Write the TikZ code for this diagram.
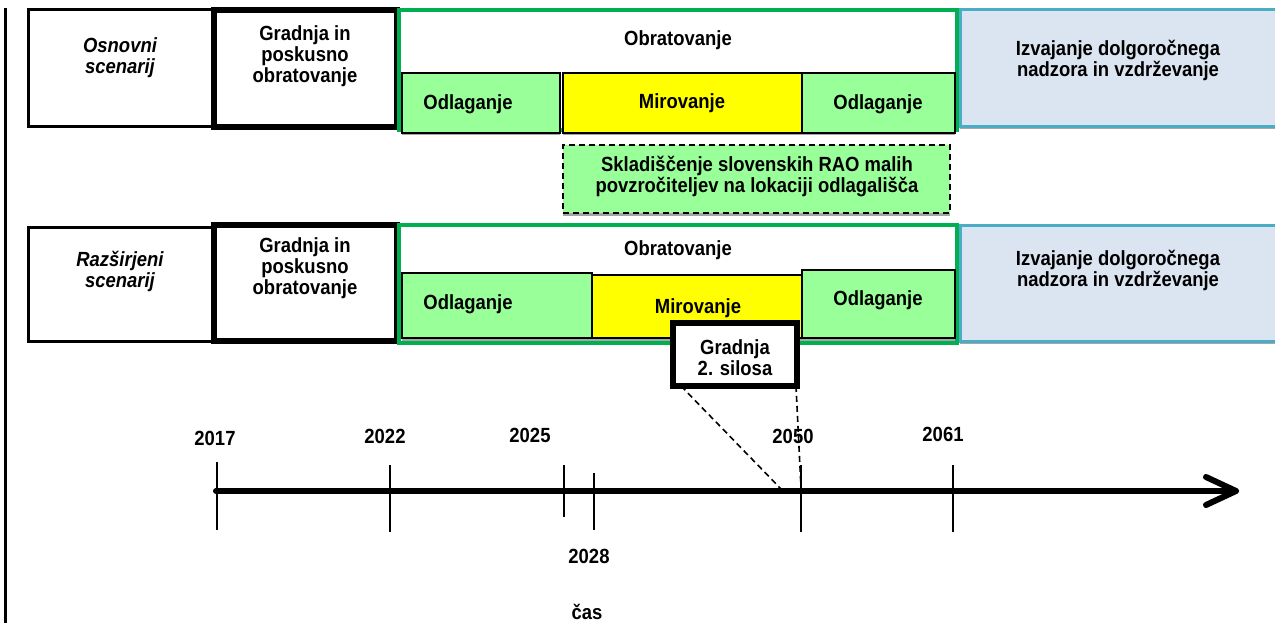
\documentclass[tikz,border=0pt]{standalone}
\usepackage{fontspec}
\setmainfont{Liberation Sans}[FakeStretch=0.9]
\usetikzlibrary{shadows}
\definecolor{grn}{HTML}{00B050}
\definecolor{lgrn}{HTML}{99FF99}
\definecolor{ylw}{HTML}{FFFF00}
\definecolor{lblue}{HTML}{DBE5F1}
\definecolor{bblue}{HTML}{4BACC6}
\begin{document}
\begin{tikzpicture}[x=1pt,y=-1pt,
  font=\fontsize{20.5}{21}\selectfont\bfseries,
  bx/.style={draw, anchor=north west, inner sep=0pt, outer sep=0pt},
  thinbox/.style={bx, line width=3pt, fill=white},
  thickbox/.style={bx, line width=6pt, fill=white},
  greenbox/.style={bx, draw=grn, line width=4pt, fill=white},
  shad/.style={drop shadow={shadow xshift=0pt, shadow yshift=-2.5pt, fill=gray!70, opacity=1}},
  odl/.style={bx, line width=2pt, fill=lgrn, shad},
  mir/.style={bx, line width=2pt, fill=ylw, shad},
  izv/.style={bx, draw=bblue, line width=3pt, fill=lblue, shad},
  txt/.style={align=center, inner sep=0pt},
  tick/.style={line width=2pt},
  yr/.style={inner sep=0pt}
]
\useasboundingbox (0,0) rectangle (1275,623);
\fill[white] (0,0) rectangle (1275,623);

% left line
\coordinate (lt) at (5,8);
\coordinate (lb) at (5,623);
\draw[line width=3pt] (lt) -- (lb);

% ---------- Row 1 ----------
\node[thinbox, minimum width=184pt, minimum height=117pt] (osn) at (28,10) {};
\node[thickbox, minimum width=183pt, minimum height=117pt] (gr1) at (214,10) {};
\node[greenbox, minimum width=558pt, minimum height=120pt] (obr1) at (399,10) {};
\node[odl, minimum width=158pt, minimum height=60pt] (od1a) at (402,73) {};
\node[mir, minimum width=239pt, minimum height=60pt] (mir1) at (563,73) {};
\node[odl, minimum width=153pt, minimum height=60pt] (od1b) at (802,73) {};
\node[izv, minimum width=320pt, minimum height=117pt] (izv1) at (960,10) {};
\node[odl, dashed, dash pattern=on 6pt off 4pt, minimum width=387pt, minimum height=68pt] (skl) at (563,145) {};

\node[txt] (t-osn) at (120,58) {\itshape Osnovni\\\itshape scenarij};
\node[txt] (t-gr1) at (305,56) {Gradnja in\\poskusno\\obratovanje};
\node[txt] (t-obr1) at (678,40) {Obratovanje};
\node[txt] (t-od1a) at (468,104) {Odlaganje};
\node[txt] (t-mir1) at (682,103) {Mirovanje};
\node[txt] (t-od1b) at (878,104) {Odlaganje};
\node[txt] (t-izv1) at (1118,60) {Izvajanje dolgoročnega\\nadzora in vzdrževanje};
\node[txt] (t-skl) at (757,177) {Skladiščenje slovenskih RAO malih\\povzročiteljev na lokaciji odlagališča};

% ---------- Row 2 ----------
\node[thinbox, minimum width=184pt, minimum height=114pt] (raz) at (28,227) {};
\node[thickbox, minimum width=183pt, minimum height=116pt] (gr2) at (214,225) {};
\node[greenbox, minimum width=558pt, minimum height=118pt] (obr2) at (399,225) {};
\node[odl, minimum width=190pt, minimum height=65pt] (od2a) at (402,273) {};
\node[mir, minimum width=210pt, minimum height=63pt] (mir2) at (592,275) {};
\node[odl, minimum width=153pt, minimum height=68pt] (od2b) at (802,270) {};
\node[izv, minimum width=320pt, minimum height=116pt] (izv2) at (960,225) {};
\node[thickbox, minimum width=124pt, minimum height=63pt] (sil) at (673,323) {};

\node[txt] (t-raz) at (120,271) {\itshape Razširjeni\\\itshape scenarij};
\node[txt] (t-gr2) at (305,268) {Gradnja in\\poskusno\\obratovanje};
\node[txt] (t-obr2) at (678,250) {Obratovanje};
\node[txt] (t-od2a) at (468,304) {Odlaganje};
\node[txt] (t-mir2) at (698,308) {Mirovanje};
\node[txt] (t-od2b) at (878,300) {Odlaganje};
\node[txt] (t-izv2) at (1118,270) {Izvajanje dolgoročnega\\nadzora in vzdrževanje};
\node[txt] (t-sil) at (735,358) {Gradnja\\2. silosa};

% ---------- Timeline ----------
\coordinate (a0) at (216,491);
\coordinate (tip) at (1236,491);
\coordinate (h1) at (1206,477);
\coordinate (h2) at (1206,505);
\draw[line width=6pt, line cap=round] (a0) -- (tip);
\draw[line width=6pt, line cap=round, line join=round] (h1) -- (tip) -- (h2);

\coordinate (k1a) at (217,462); \coordinate (k1b) at (217,530);
\coordinate (k2a) at (390,465); \coordinate (k2b) at (390,532);
\coordinate (k3a) at (564,465); \coordinate (k3b) at (564,517);
\coordinate (k4a) at (594,473); \coordinate (k4b) at (594,530);
\coordinate (k5a) at (801,465); \coordinate (k5b) at (801,532);
\coordinate (k6a) at (953,465); \coordinate (k6b) at (953,532);
\draw[tick] (k1a) -- (k1b);
\draw[tick] (k2a) -- (k2b);
\draw[tick] (k3a) -- (k3b);
\draw[tick] (k4a) -- (k4b);
\draw[tick] (k5a) -- (k5b);
\draw[tick] (k6a) -- (k6b);

\node[yr] (y2017) at (215,438) {2017};
\node[yr] (y2022) at (385,436) {2022};
\node[yr] (y2025) at (530,435) {2025};
\node[yr] (y2050) at (793,436) {2050};
\node[yr] (y2061) at (943,434) {2061};
\node[yr] (y2028) at (589,556) {2028};
\node[yr] (ycas) at (587,612) {čas};

% dashed lines from silos box
\coordinate (d1) at (782,490);
\coordinate (d2) at (801,488);
\draw[line width=1.6pt, dashed, dash pattern=on 6pt off 4pt] ([xshift=8pt]sil.south west) -- (d1);
\draw[line width=1.6pt, dashed, dash pattern=on 6pt off 4pt] ([xshift=-1pt]sil.south east) -- (d2);
\end{tikzpicture}
\end{document}
